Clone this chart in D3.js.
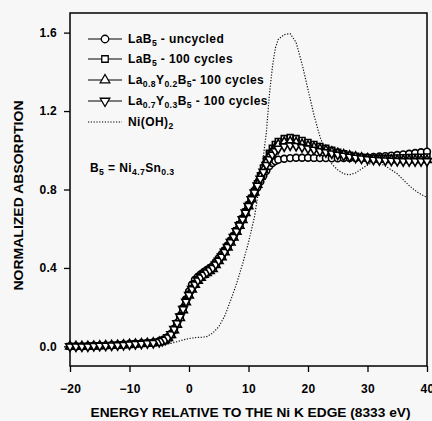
<!DOCTYPE html>
<html>
<head>
<meta charset="utf-8">
<script src="https://cdn.jsdelivr.net/npm/d3@7"></script>
<style>
  body { margin: 0; background: #f7f7f7; }
  svg { display: block; font-family: "Liberation Sans", Arial, sans-serif; font-weight: bold; }
</style>
</head>
<body>
<div id="chart"></div>
<script>
const width = 432
const height = 421
const margin = { top: 13, bottom: 55, left: 70, right: 5 }

// Energy grid of the alloy spectra (eV relative to the Ni K edge)
const energy = [-20, -19, -18, -17, -16, -15, -14, -13, -12, -11, -10, -9, -8, -7, -6, -5,
  -4.5, -4, -3.5, -3, -2.5, -2, -1.5, -1, -0.5, 0, 0.5, 1, 1.5, 2, 2.5, 3, 3.5, 4, 4.5, 5,
  5.5, 6, 6.5, 7, 7.5, 8, 8.5, 9, 9.5, 10, 10.5, 11, 11.5, 12, 12.5, 13, 13.5, 14, 14.5, 15,
  16, 17, 18, 19, 20, 21, 22, 23, 24, 25, 26, 27, 28, 29, 30, 31, 32, 33, 34, 35, 36, 37, 38, 39, 40]

const lab5Uncycled = [0, 0, 0, 0.002, 0.003, 0.004, 0.005, 0.006, 0.008, 0.01, 0.012, 0.014, 0.016, 0.018, 0.02, 0.025,
  0.03, 0.036, 0.048, 0.065, 0.09, 0.12, 0.155, 0.195, 0.24, 0.28, 0.315, 0.34, 0.355, 0.368, 0.38, 0.39, 0.4, 0.41, 0.43, 0.45,
  0.47, 0.49, 0.515, 0.54, 0.565, 0.59, 0.62, 0.65, 0.685, 0.72, 0.75, 0.78, 0.81, 0.84, 0.87, 0.895, 0.92, 0.935, 0.945, 0.952,
  0.957, 0.96, 0.962, 0.962, 0.962, 0.961, 0.96, 0.96, 0.959, 0.959, 0.96, 0.96, 0.961, 0.962, 0.964, 0.966, 0.968, 0.97, 0.973, 0.976, 0.979, 0.982, 0.986, 0.99, 0.993]

const lab5Cycled = [0, 0, 0, 0, 0.002, 0.003, 0.004, 0.005, 0.006, 0.008, 0.01, 0.012, 0.014, 0.016, 0.018, 0.022,
  0.027, 0.033, 0.044, 0.06, 0.085, 0.115, 0.15, 0.19, 0.23, 0.265, 0.295, 0.32, 0.34, 0.355, 0.37, 0.38, 0.39, 0.4, 0.42, 0.44,
  0.46, 0.485, 0.51, 0.535, 0.56, 0.59, 0.62, 0.65, 0.685, 0.72, 0.755, 0.79, 0.83, 0.87, 0.91, 0.95, 0.985, 1.01, 1.03, 1.045,
  1.06, 1.065, 1.06, 1.05, 1.04, 1.03, 1.02, 1.01, 1.0, 0.99, 0.982, 0.975, 0.97, 0.965, 0.962, 0.96, 0.96, 0.96, 0.96, 0.961, 0.962, 0.963, 0.964, 0.965, 0.966]

const la08y02Cycled = [0, 0, 0, 0, 0.002, 0.003, 0.004, 0.005, 0.006, 0.008, 0.01, 0.012, 0.014, 0.016, 0.018, 0.022,
  0.026, 0.032, 0.043, 0.058, 0.082, 0.11, 0.145, 0.185, 0.225, 0.26, 0.29, 0.315, 0.335, 0.35, 0.365, 0.375, 0.385, 0.395, 0.415, 0.435,
  0.455, 0.48, 0.505, 0.53, 0.555, 0.585, 0.615, 0.645, 0.68, 0.715, 0.75, 0.785, 0.825, 0.865, 0.9, 0.94, 0.97, 0.995, 1.015, 1.03,
  1.042, 1.045, 1.04, 1.032, 1.024, 1.016, 1.008, 1.0, 0.992, 0.985, 0.978, 0.972, 0.967, 0.962, 0.958, 0.955, 0.953, 0.952, 0.951, 0.95, 0.95, 0.95, 0.95, 0.95, 0.95]

const la07y03Cycled = [0, 0, 0, 0, 0.002, 0.003, 0.004, 0.005, 0.006, 0.008, 0.01, 0.012, 0.014, 0.016, 0.018, 0.023,
  0.028, 0.034, 0.046, 0.062, 0.088, 0.118, 0.152, 0.19, 0.228, 0.262, 0.292, 0.316, 0.336, 0.352, 0.366, 0.377, 0.388, 0.4, 0.418, 0.437,
  0.458, 0.482, 0.507, 0.532, 0.558, 0.587, 0.617, 0.648, 0.682, 0.716, 0.75, 0.785, 0.82, 0.855, 0.89, 0.925, 0.955, 0.978, 0.995, 1.008,
  1.02, 1.025, 1.022, 1.016, 1.01, 1.003, 0.996, 0.99, 0.984, 0.978, 0.972, 0.967, 0.962, 0.958, 0.955, 0.952, 0.95, 0.948, 0.947, 0.946, 0.945, 0.945, 0.945, 0.945, 0.945]

// Ni(OH)2 reference
const nickelEnergy = [-20, -15, -10, -6, -5, -4, -3, -2, -1, 0, 1, 2, 3, 4, 5, 6, 7, 8, 9, 10, 11, 12, 12.5, 13, 13.5, 14, 14.5, 15, 16, 17,
  18, 19, 20, 21, 22, 23, 24, 25, 26, 27, 28, 29, 30, 31, 32, 33, 34, 35, 36, 37, 38, 39, 40]
const nickelValues = [0, 0, 0, 0.003, 0.006, 0.01, 0.016, 0.024, 0.033, 0.04, 0.045, 0.046, 0.05, 0.068, 0.1, 0.155, 0.235, 0.32, 0.42, 0.53, 0.66, 0.85, 0.97, 1.09, 1.28, 1.42, 1.52, 1.565, 1.59, 1.595,
  1.55, 1.44, 1.31, 1.18, 1.07, 0.99, 0.93, 0.9, 0.88, 0.875, 0.885, 0.905, 0.925, 0.94, 0.935, 0.92, 0.9, 0.88, 0.85, 0.82, 0.795, 0.775, 0.76]

const xTicks = [-20, -10, 0, 10, 20, 30, 40]
const yTicks = [0.0, 0.4, 0.8, 1.2, 1.6]

// legend labels: [text, subscript?]
const legendLabels = [
  [["LaB", false], ["5", true], [" - uncycled", false]],
  [["LaB", false], ["5", true], [" - 100 cycles", false]],
  [["La", false], ["0.8", true], ["Y", false], ["0.2", true], ["B", false], ["5", true], ["- 100 cycles", false]],
  [["La", false], ["0.7", true], ["Y", false], ["0.3", true], ["B", false], ["5", true], [" - 100 cycles", false]],
  [["Ni(OH)", false], ["2", true]]
]
const noteLabel = [["B", false], ["5", true], [" = Ni", false], ["4.7", true], ["Sn", false], ["0.3", true]]

const series = [
  { values: lab5Uncycled, symbol: d3.symbolCircle, size: 36, rotate: 0 },
  { values: lab5Cycled, symbol: d3.symbolSquare, size: 34, rotate: 0 },
  { values: la08y02Cycled, symbol: d3.symbolTriangle, size: 32, rotate: 0 },
  { values: la07y03Cycled, symbol: d3.symbolTriangle, size: 32, rotate: 180 }
]

const svg = d3.select("#chart").append("svg")
  .attr("width", width).attr("height", height)

const x = d3.scaleLinear().domain([-20, 40]).range([margin.left, width - margin.right])
const y = d3.scaleLinear().domain([-0.1, 1.7]).range([height - margin.bottom, margin.top])

// Ejes
const xAxisGroup = svg.append("g")
  .attr("transform", `translate(0, ${height - margin.bottom})`)
  .call(d3.axisBottom(x).tickValues(xTicks).tickSize(6).tickPadding(12).tickFormat(d3.format("d")))
const yAxisGroup = svg.append("g")
  .attr("transform", `translate(${margin.left}, 0)`)
  .call(d3.axisLeft(y).tickValues(yTicks).tickSize(6).tickPadding(7).tickFormat(d3.format(".1f")))

;[xAxisGroup, yAxisGroup].forEach(g => {
  g.select(".domain").remove()
  g.selectAll("line").attr("stroke", "#000").attr("stroke-width", 1.3)
  g.selectAll("text").attr("font-size", 12).attr("font-weight", "bold").attr("fill", "#000")
    .attr("letter-spacing", 0.3)
    .attr("font-family", "'Liberation Sans', Arial, sans-serif")
})

svg.append("rect")
  .attr("x", x(-20)).attr("y", y(1.7))
  .attr("width", x(40) - x(-20)).attr("height", y(-0.1) - y(1.7))
  .attr("fill", "none").attr("stroke", "#000").attr("stroke-width", 1.5)

// Ni(OH)2 dotted
const nickelData = nickelEnergy.map((e, i) => ({ e, v: nickelValues[i] }))
svg.append("path").datum(nickelData)
  .attr("fill", "none").attr("stroke", "#111").attr("stroke-width", 1.2)
  .attr("stroke-dasharray", "1.2,1.6")
  .attr("d", d3.line().x(d => x(d.e)).y(d => y(d.v)))

// Series
series.forEach(s => {
  const data = energy.map((e, i) => ({ e, v: s.values[i] }))
  const g = svg.append("g")
  g.append("path").datum(data)
    .attr("fill", "none").attr("stroke", "#000").attr("stroke-width", 1)
    .attr("d", d3.line().x(d => x(d.e)).y(d => y(d.v)))
  g.selectAll("path.mark").data(data).join("path")
    .attr("class", "mark")
    .attr("transform", d => `translate(${x(d.e)}, ${y(d.v)}) rotate(${s.rotate})`)
    .attr("d", d3.symbol().type(s.symbol).size(s.size))
    .attr("fill", "#fff").attr("stroke", "#000").attr("stroke-width", 1.6)
})

// Leyenda
function richText(sel, parts, size) {
  parts.forEach(([t, sub], i) => {
    const prevSub = i > 0 && parts[i - 1][1]
    sel.append("tspan")
      .attr("font-size", sub ? size * 0.72 : size)
      .attr("dy", sub ? 3 : (prevSub ? -3 : 0))
      .text(t)
  })
}

const legend = svg.append("g")
const rowY = [39, 59, 80, 101, 122]
legendLabels.forEach((parts, i) => {
  const yy = rowY[i]
  legend.append("line")
    .attr("x1", 88).attr("x2", 122).attr("y1", yy).attr("y2", yy)
    .attr("stroke", "#000").attr("stroke-width", i < 4 ? 1 : 1.2)
    .attr("stroke-dasharray", i < 4 ? null : "1.2,1.6")
  if (i < 4) {
    legend.append("path")
      .attr("transform", `translate(105, ${yy}) rotate(${series[i].rotate})`)
      .attr("d", d3.symbol().type(series[i].symbol).size(series[i].size + 8))
      .attr("fill", "#fff").attr("stroke", "#000").attr("stroke-width", 1.3)
  }
  const t = legend.append("text").attr("x", 128).attr("y", yy + 4)
    .attr("font-size", 12).attr("letter-spacing", 0.4)
  richText(t, parts, 12)
})

const note = svg.append("text").attr("x", 90).attr("y", 172)
  .attr("font-size", 12).attr("letter-spacing", 0.4)
richText(note, noteLabel, 12)

// Titulos
svg.append("text")
  .attr("x", (x(-20) + x(40)) / 2 + 2).attr("y", 417)
  .attr("text-anchor", "middle").attr("font-size", 12.5)
  .attr("textLength", 320).attr("lengthAdjust", "spacingAndGlyphs")
  .text("ENERGY RELATIVE TO THE Ni K EDGE (8333 eV)")

svg.append("text")
  .attr("transform", `translate(23, ${(y(-0.1) + y(1.7)) / 2 + 6}) rotate(-90)`)
  .attr("text-anchor", "middle").attr("font-size", 12.5)
  .attr("textLength", 190).attr("lengthAdjust", "spacingAndGlyphs")
  .text("NORMALIZED ABSORPTION")
</script>
</body>
</html>
